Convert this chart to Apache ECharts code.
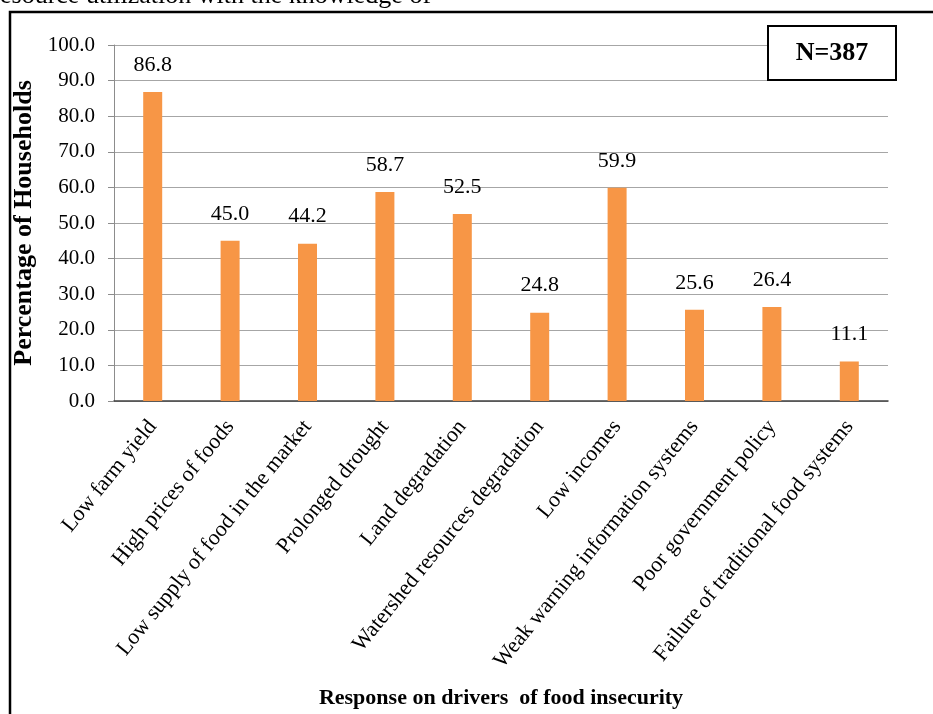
<!DOCTYPE html>
<html>
<head>
<meta charset="utf-8">
<script src="https://cdn.jsdelivr.net/npm/echarts@6/dist/echarts.min.js"></script>
<style>
html,body{margin:0;padding:0;background:#fff;}
#chart{width:933px;height:714px;}
</style>
</head>
<body>
<div id="chart"></div>
<script>
var categories = [
  'Low farm yield',
  'High prices of foods',
  'Low supply of food in the market',
  'Prolonged drought',
  'Land degradation',
  'Watershed resources degradation',
  'Low incomes',
  'Weak warning information systems',
  'Poor government policy',
  'Failure of traditional food systems'
];
var percentages = [86.8, 45.0, 44.2, 58.7, 52.5, 24.8, 59.9, 25.6, 26.4, 11.1];
var yAxisTitle = 'Percentage of Households';
var xAxisTitle = 'Response on drivers  of food insecurity';
var sampleNote = 'N=387';
var clippedHeading = 'esource utilization with the knowledge of';

var serif = '"Liberation Serif", "Times New Roman", serif';
var chart = echarts.init(document.getElementById('chart'));
chart.setOption({
  backgroundColor: '#fff',
  animation: false,
  grid: {left: 114, right: 45, top: 45, bottom: 313, containLabel: false},
  xAxis: {
    type: 'category',
    data: categories,
    axisLine: {lineStyle: {color: '#404040', width: 1.5}},
    axisTick: {show: false},
    axisLabel: {rotate: 51, fontFamily: serif, fontSize: 22, color: '#000', margin: 22, interval: 0},
    name: xAxisTitle,
    nameLocation: 'middle',
    nameGap: 286,
    nameTextStyle: {fontFamily: serif, fontSize: 22, fontWeight: 'bold', color: '#000'}
  },
  yAxis: {
    type: 'value',
    min: 0, max: 100, interval: 10,
    axisLine: {show: true, lineStyle: {color: '#8c8c8c'}},
    axisTick: {show: true, length: 6, lineStyle: {color: '#8c8c8c'}},
    splitLine: {lineStyle: {color: '#a6a6a6', width: 1}},
    axisLabel: {fontFamily: serif, fontSize: 21, color: '#000', margin: 19,
      formatter: function (v) { return v.toFixed(1); }},
    name: yAxisTitle,
    nameLocation: 'middle',
    nameGap: 65,
    nameRotate: 90,
    nameTextStyle: {fontFamily: serif, fontSize: 26, fontWeight: 'bold', color: '#000'}
  },
  series: [{
    type: 'bar',
    data: percentages,
    barWidth: 19,
    itemStyle: {color: '#F79646'},
    label: {show: true, position: 'top', distance: 16, fontFamily: serif, fontSize: 22, color: '#000',
      formatter: function (p) { return p.value.toFixed(1); }}
  }],
  graphic: [
    {type: 'rect', shape: {x: 10, y: 12, width: 1000, height: 800},
      style: {fill: 'none', stroke: '#000', lineWidth: 2.5}, z: 10},
    {type: 'text', left: 0, top: -17,
      style: {text: clippedHeading, font: '26px ' + serif, fill: '#000'}, z: 10},
    {type: 'rect', shape: {x: 768, y: 26, width: 128, height: 54},
      style: {fill: '#fff', stroke: '#000', lineWidth: 2}, z: 10},
    {type: 'text', x: 832, y: 53,
      style: {text: sampleNote, font: 'bold 26px ' + serif, fill: '#000', textAlign: 'center', textVerticalAlign: 'middle'}, z: 11}
  ]
});
</script>
</body>
</html>
